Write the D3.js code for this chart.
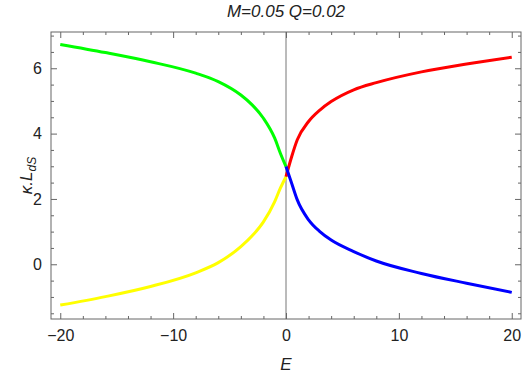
<!DOCTYPE html>
<html>
<head>
<meta charset="utf-8">
<script src="https://cdn.jsdelivr.net/npm/d3@7"></script>
<style>
  html, body { margin: 0; padding: 0; background: #fff; }
  svg { display: block; }
  text { font-family: "Liberation Sans", Arial, sans-serif; }
</style>
</head>
<body>
<svg id="chart" width="526" height="377"></svg>
<script>
// ---- data ----
const titleText = "M=0.05 Q=0.02";
const xLabel = "E";
const eLeft  = [-20, -16, -12, -8, -6, -4, -3, -2, -1, -0.5, 0];
const green  = [6.73, 6.48, 6.20, 5.85, 5.59, 5.18, 4.88, 4.47, 3.86, 3.40, 2.99];
const yellow = [-1.25, -0.99, -0.68, -0.26, 0.05, 0.54, 0.87, 1.30, 1.92, 2.33, 2.68];
const eRight = [0, 0.5, 1, 2, 3, 4, 6, 8, 12, 16, 20];
const red    = [2.68, 3.29, 3.81, 4.37, 4.72, 4.98, 5.34, 5.56, 5.89, 6.13, 6.34];
const blue   = [2.99, 2.48, 1.97, 1.36, 1.00, 0.74, 0.39, 0.10, -0.28, -0.58, -0.86];
const xTicks = [-20, -10, 0, 10, 20];
const yTicks = [0, 2, 4, 6];

// ---- layout ----
const svg = d3.select("#chart");
const L = 51, R = 521, T = 32, B = 319;
const x = d3.scaleLinear().domain([-20.82, 20.82]).range([L, R]);
const y = d3.scaleLinear().domain([-1.675, 7.11]).range([B, T]);
const axisColor = "#666";
const textColor = "#222";

// clip
svg.append("defs").append("clipPath").attr("id", "clip")
  .append("rect").attr("x", L).attr("y", T).attr("width", R - L).attr("height", B - T);

// zero vertical line
svg.append("line").attr("x1", x(0)).attr("x2", x(0)).attr("y1", T).attr("y2", B)
  .attr("stroke", "#777").attr("stroke-width", 1);

// series
const seriesList = [
  { e: eLeft,  v: green,  color: "#00ff00" },
  { e: eLeft,  v: yellow, color: "#ffff00" },
  { e: eRight, v: red,    color: "#ff0000" },
  { e: eRight, v: blue,   color: "#0000ff" }
];
const line = d3.line().x(d => x(d[0])).y(d => y(d[1])).curve(d3.curveMonotoneX);
const g = svg.append("g").attr("clip-path", "url(#clip)");
seriesList.forEach(s => {
  g.append("path")
    .attr("d", line(s.e.map((e, i) => [e, s.v[i]])))
    .attr("fill", "none").attr("stroke", s.color).attr("stroke-width", 3)
    .attr("stroke-linejoin", "round");
});

// axes with inward ticks (frame)
const xMinor = d3.range(-20, 20.001, 2).filter(v => v % 10 !== 0);
const yMinor = d3.range(-1.5, 7.01, 0.5).filter(v => v % 2 !== 0);

function styleAxis(sel) {
  sel.select(".domain").remove();
  sel.selectAll(".tick line").attr("stroke", axisColor);
  sel.selectAll(".tick text").attr("fill", textColor)
    .style("font-size", "16px").style("font-family", "'Liberation Sans', Arial, sans-serif");
}
const minus = d => d < 0 ? "\u2212" + Math.abs(d) : String(d);

// bottom
const bottom = svg.append("g").attr("transform", `translate(0,${B})`)
  .call(d3.axisBottom(x).tickValues(xTicks).tickSizeInner(-6).tickSizeOuter(0).tickPadding(11).tickFormat(minus));
styleAxis(bottom);
svg.append("g").attr("transform", `translate(0,${B})`)
  .call(d3.axisBottom(x).tickValues(xMinor).tickSize(-3).tickFormat(""))
  .call(styleAxis);
// top
svg.append("g").attr("transform", `translate(0,${T})`)
  .call(d3.axisTop(x).tickValues(xTicks).tickSize(-6).tickFormat(""))
  .call(styleAxis);
svg.append("g").attr("transform", `translate(0,${T})`)
  .call(d3.axisTop(x).tickValues(xMinor).tickSize(-3).tickFormat(""))
  .call(styleAxis);
// left
const left = svg.append("g").attr("transform", `translate(${L},0)`)
  .call(d3.axisLeft(y).tickValues(yTicks).tickSizeInner(-6).tickSizeOuter(0).tickPadding(9).tickFormat(minus));
styleAxis(left);
svg.append("g").attr("transform", `translate(${L},0)`)
  .call(d3.axisLeft(y).tickValues(yMinor).tickSize(-3).tickFormat(""))
  .call(styleAxis);
// right
svg.append("g").attr("transform", `translate(${R},0)`)
  .call(d3.axisRight(y).tickValues(yTicks).tickSize(-6).tickFormat(""))
  .call(styleAxis);
svg.append("g").attr("transform", `translate(${R},0)`)
  .call(d3.axisRight(y).tickValues(yMinor).tickSize(-3).tickFormat(""))
  .call(styleAxis);

// frame
svg.append("rect").attr("x", L).attr("y", T).attr("width", R - L).attr("height", B - T)
  .attr("fill", "none").attr("stroke", axisColor).attr("stroke-width", 1);

// title
svg.append("text").attr("x", (L + R) / 2).attr("y", 17).attr("text-anchor", "middle")
  .attr("fill", textColor).style("font-size", "17px").style("font-style", "italic")
  .text(titleText);

// x label
svg.append("text").attr("x", x(0)).attr("y", 370).attr("text-anchor", "middle")
  .attr("fill", textColor).style("font-size", "17px").style("font-style", "italic")
  .text(xLabel);

// y label: κ.L_dS
const yl = svg.append("text")
  .attr("transform", `translate(32,${(T + B) / 2}) rotate(-90)`)
  .attr("text-anchor", "middle").attr("fill", textColor)
  .style("font-size", "17px").style("font-style", "italic");
yl.append("tspan").text("\u03ba.L");
yl.append("tspan").attr("dy", 4).style("font-size", "12px").text("dS");
</script>
</body>
</html>
